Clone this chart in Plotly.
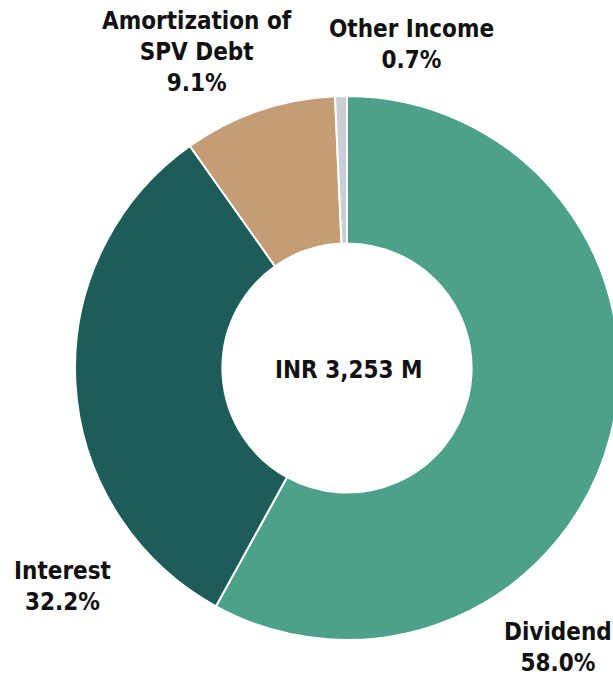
import plotly.graph_objects as go

categories = ["Dividend", "Interest", "Amortization of SPV Debt", "Other Income"]
label_names = ["Dividend", "Interest", "Amortization of<br>SPV Debt", "Other Income"]
shares = [58.0, 32.2, 9.1, 0.7]
colors = ["#4DA08A", "#1E5C5A", "#C49C76", "#C9CED7"]
center_text = "INR 3,253 M"

# figure is slightly wider than the 613px window; the right edge of the ring is clipped like the reference
W, H = 625, 677
cx, cy, r = 347, 368, 272

fig = go.Figure(go.Pie(
    labels=categories,
    values=shares,
    marker=dict(colors=colors, line=dict(color="white", width=2)),
    hole=0.458,
    sort=False,
    direction="clockwise",
    rotation=0,
    textinfo="none",
    hoverinfo="label+percent",
    showlegend=False,
    domain=dict(x=[(cx - r) / W, (cx + r) / W], y=[(H - cy - r) / H, (H - cy + r) / H]),
))

font = dict(family="DejaVu Sans Condensed, DejaVu Sans", size=24, color="#111111")
label_pos = [(558, 647), (62, 586), (197, 52), (411, 45)]
annotations = []
for name, val, (px, py) in zip(label_names, shares, label_pos):
    annotations.append(dict(
        text=f"<b>{name}<br>{val:.1f}%</b>", x=px / W, y=1 - py / H,
        xref="paper", yref="paper", xanchor="center", yanchor="middle",
        showarrow=False, font=font, align="center"))
annotations.append(dict(
    text=f"<b>{center_text}</b>", x=349 / W, y=1 - 370 / H,
    xref="paper", yref="paper", xanchor="center", yanchor="middle",
    showarrow=False, font=font))

fig.update_layout(
    width=W, height=H,
    margin=dict(l=0, r=0, t=0, b=0),
    paper_bgcolor="white", plot_bgcolor="white",
    annotations=annotations,
)
fig.write_html("out.html", config={"displayModeBar": False},
               post_script="document.body.style.margin='0';document.body.style.overflow='hidden';")
